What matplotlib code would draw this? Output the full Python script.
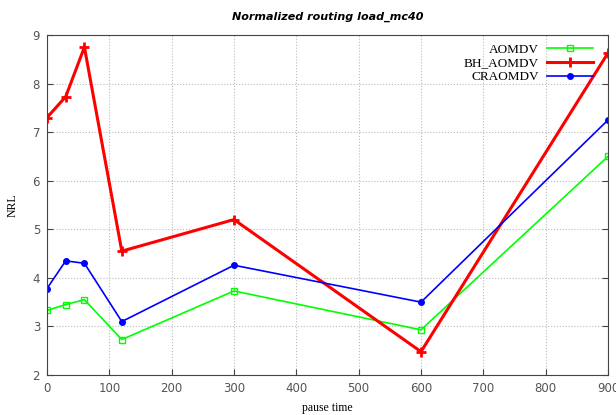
import matplotlib
matplotlib.use('Agg')
import matplotlib.pyplot as plt

pause = [0, 30, 60, 120, 300, 600, 900]
aomdv = [3.33, 3.45, 3.55, 2.73, 3.73, 2.93, 6.5]
bh_aomdv = [7.3, 7.73, 8.75, 4.55, 5.2, 2.48, 8.63]
craomdv = [3.78, 4.35, 4.3, 3.1, 4.26, 3.5, 7.25]

fig = plt.figure(figsize=(6.16, 4.15), dpi=100)
ax = fig.add_axes([47/616, 40/415, 561/616, 340/415])

ax.plot(pause, aomdv, color='#00ff00', lw=1.2, marker='s', ms=4.5, mfc='none', mew=1.0, label='AOMDV')
ax.plot(pause, bh_aomdv, color='#ff0000', lw=2.2, marker='+', ms=7, mew=2.0, label='BH_AOMDV')
ax.plot(pause, craomdv, color='#0000ff', lw=1.2, marker='o', ms=4, label='CRAOMDV')

ax.set_xlim(0, 900)
ax.set_ylim(2, 9)
ax.set_xticks(range(0, 901, 100))
ax.set_yticks(range(2, 10))
ax.grid(True, color='#bbbbbb', ls=':', lw=0.8)
ax.tick_params(direction='in', right=True, top=False, length=4, colors='#444444',
               labelcolor='#555555', labelsize=8.5, pad=5)
for s in ax.spines.values():
    s.set_color('#444444')

ax.set_title('Normalized routing load_mc40', fontsize=8, fontweight='bold', style='italic', pad=11)
ax.set_xlabel('pause time', family='Liberation Serif', fontsize=8.5, labelpad=5)
ax.set_ylabel('NRL', family='Liberation Serif', fontsize=8.5, labelpad=10)

leg = ax.legend(loc='upper right', markerfirst=False, frameon=False,
                prop={'family': 'Liberation Serif', 'size': 9.5},
                handlelength=3.5, handletextpad=0.6, labelspacing=0.12,
                borderaxespad=0.1, bbox_to_anchor=(0.985, 0.995))
for t in leg.get_texts():
    t.set_ha('right')

fig.savefig('out.png', dpi=100)
